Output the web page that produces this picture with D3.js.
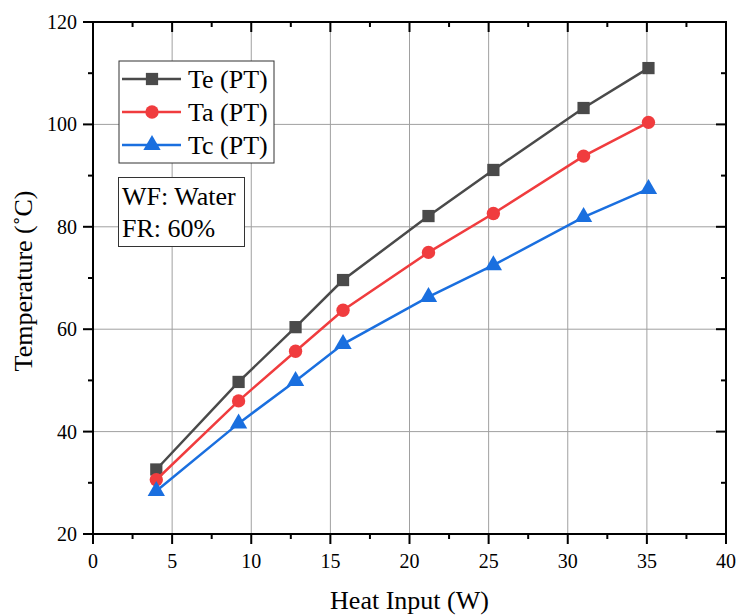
<!DOCTYPE html>
<html><head><meta charset="utf-8">
<script src="https://cdn.jsdelivr.net/npm/d3@7"></script>
<style>body{margin:0;background:#fff}svg{display:block}</style>
</head><body><svg id="c" width="737" height="616"></svg>
<script>
const heatInput = [4, 9.2, 12.8, 15.8, 21.2, 25.3, 31, 35.1];
const teValues = [32.6, 49.7, 60.4, 69.6, 82.1, 91.1, 103.2, 111];
const taValues = [30.6, 46, 55.7, 63.7, 75, 82.6, 93.8, 100.4];
const tcValues = [28.4, 41.6, 49.9, 57.1, 66.3, 72.5, 81.9, 87.4];
const seriesNames = ["Te (PT)", "Ta (PT)", "Tc (PT)"];
const xTicks = [0, 5, 10, 15, 20, 25, 30, 35, 40];
const yTicks = [20, 40, 60, 80, 100, 120];
const infoLines = ["WF: Water", "FR: 60%"];

const FONT = "'Liberation Serif', 'Times New Roman', serif";
const svg = d3.select("#c").attr("font-family", FONT);
const L = 93, R = 726, T = 22, B = 534;
const x = d3.scaleLinear().domain([0, 40]).range([L, R]);
const y = d3.scaleLinear().domain([20, 120]).range([B, T]);

// grid
const g = svg.append("g");
g.selectAll(".gx").data(xTicks.slice(1, -1)).enter().append("line")
  .attr("x1", d => x(d)).attr("x2", d => x(d)).attr("y1", T).attr("y2", B)
  .attr("stroke", "#a0a0a0").attr("stroke-width", 1);
g.selectAll(".gy").data(yTicks.slice(1, -1)).enter().append("line")
  .attr("y1", d => y(d)).attr("y2", d => y(d)).attr("x1", L).attr("x2", R)
  .attr("stroke", "#a0a0a0").attr("stroke-width", 1);

// series
const series = [
  {name: seriesNames[0], vals: teValues, color: "#4a4a4a", shape: d3.symbolSquare, size: 150},
  {name: seriesNames[1], vals: taValues, color: "#f03c3e", shape: d3.symbolCircle, size: 140},
  {name: seriesNames[2], vals: tcValues, color: "#1a6fdf", shape: d3.symbolTriangle, size: 130}
];
const line = d3.line().x(d => x(d[0])).y(d => y(d[1]));
series.forEach(s => {
  const pts = heatInput.map((h, i) => [h, s.vals[i]]);
  svg.append("path").attr("d", line(pts)).attr("fill", "none")
    .attr("stroke", s.color).attr("stroke-width", 2.5);
  svg.selectAll(null).data(pts).enter().append("path")
    .attr("d", d3.symbol().type(s.shape).size(s.size))
    .attr("transform", d => `translate(${x(d[0])},${y(d[1])})`)
    .attr("fill", s.color);
});

// axes
const ax = svg.append("g").attr("stroke", "#000");
ax.append("rect").attr("x", L).attr("y", T).attr("width", R - L).attr("height", B - T)
  .attr("fill", "none").attr("stroke-width", 2);
const xMinor = d3.range(0, 40.01, 2.5);
const yMinor = d3.range(20, 120.01, 10);
xMinor.forEach(v => {
  const major = v % 5 === 0, len = major ? 10 : 5;
  ax.append("line").attr("x1", x(v)).attr("x2", x(v)).attr("y1", B).attr("y2", B + len).attr("stroke-width", 2);
  ax.append("line").attr("x1", x(v)).attr("x2", x(v)).attr("y1", T).attr("y2", T + len).attr("stroke-width", 2);
});
yMinor.forEach(v => {
  const major = v % 20 === 0, len = major ? 10 : 5;
  ax.append("line").attr("y1", y(v)).attr("y2", y(v)).attr("x1", L).attr("x2", L - len).attr("stroke-width", 2);
  ax.append("line").attr("y1", y(v)).attr("y2", y(v)).attr("x1", R).attr("x2", R - len).attr("stroke-width", 2);
});
svg.selectAll(".xt").data(xTicks).enter().append("text")
  .attr("x", d => x(d)).attr("y", B + 34).attr("text-anchor", "middle")
  .attr("font-size", 20).text(d => d);
svg.selectAll(".yt").data(yTicks).enter().append("text")
  .attr("x", L - 16).attr("y", d => y(d) + 7).attr("text-anchor", "end")
  .attr("font-size", 20).text(d => d);

svg.append("text").attr("x", (L + R) / 2).attr("y", 609).attr("text-anchor", "middle")
  .attr("font-size", 26).text("Heat Input (W)");
svg.append("text").attr("transform", `translate(32,281) rotate(-90)`)
  .attr("text-anchor", "middle").attr("font-size", 26).text("Temperature (˚C)");

// legend
svg.append("rect").attr("x", 119).attr("y", 61).attr("width", 155).attr("height", 102)
  .attr("fill", "#fff").attr("stroke", "#333").attr("stroke-width", 1);
series.forEach((s, i) => {
  const cy = 79 + i * 33;
  svg.append("line").attr("x1", 122).attr("x2", 181).attr("y1", cy).attr("y2", cy)
    .attr("stroke", s.color).attr("stroke-width", 2.5);
  svg.append("path").attr("d", d3.symbol().type(s.shape).size(s.size)())
    .attr("transform", `translate(152,${cy})`).attr("fill", s.color);
  svg.append("text").attr("x", 188).attr("y", cy + 9).attr("font-size", 26).text(s.name);
});

// info box
svg.append("rect").attr("x", 118.5).attr("y", 177.5).attr("width", 126).attr("height", 69)
  .attr("fill", "#fff").attr("stroke", "#333").attr("stroke-width", 1);
infoLines.forEach((t, i) => {
  svg.append("text").attr("x", 122).attr("y", 205 + i * 32).attr("font-size", 26).text(t);
});
</script></body></html>
